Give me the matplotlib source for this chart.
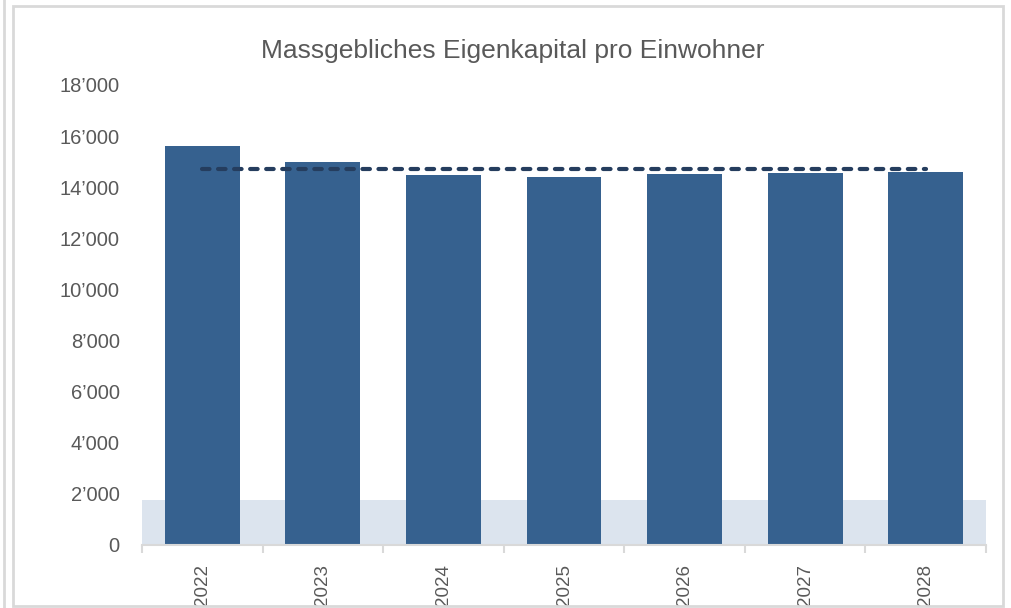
import matplotlib.pyplot as plt
from matplotlib.patches import Rectangle
from matplotlib.lines import Line2D
from matplotlib.ticker import FuncFormatter

years = ['2022', '2023', '2024', '2025', '2026', '2027', '2028']
eigenkapital = [15610, 14970, 14490, 14390, 14510, 14540, 14580]
mittelwert = [14710] * len(years)
zielband = 1780  # light blue band height

BAR_COLOR = '#36618f'
LINE_COLOR = '#253d5e'
TEXT_COLOR = '#595959'
FRAME_COLOR = '#d9d9d9'

plt.rcParams['font.family'] = ['Liberation Sans', 'DejaVu Sans']

fig = plt.figure(figsize=(10.11, 6.08), dpi=100)
ax = fig.add_axes([142 / 1011, 63 / 608, 844 / 1011, 460 / 608])

x = list(range(len(years)))
ax.axhspan(0, zielband, color='#dce4ee', lw=0, zorder=0)
ax.bar(x, eigenkapital, width=0.62, color=BAR_COLOR, zorder=2)
ax.plot(x, mittelwert, color=LINE_COLOR, lw=3, ls=(0, (1.8, 2.05)),
        dash_capstyle='round', zorder=3)

ax.set_xlim(-0.5, 6.5)
ax.set_ylim(0, 18000)
ax.set_yticks(range(0, 18001, 2000))
ax.yaxis.set_major_formatter(FuncFormatter(lambda v, p: f'{int(v):,}'.replace(',', '\u2019')))
ax.set_xticks(x)
ax.set_xticklabels(years, rotation=90)
ax.set_xticks([i - 0.5 for i in range(len(years) + 1)], minor=True)

for s in ['top', 'right', 'left']:
    ax.spines[s].set_visible(False)
ax.spines['bottom'].set_color(FRAME_COLOR)
ax.spines['bottom'].set_linewidth(1.5)
ax.tick_params(axis='y', length=0, labelsize=14.5, colors=TEXT_COLOR, pad=16)
ax.tick_params(axis='x', which='major', length=0, labelsize=13.5, colors=TEXT_COLOR, pad=14)
ax.tick_params(axis='x', which='minor', length=6, width=1.5, color=FRAME_COLOR)

fig.text(0.5074, 1 - 58 / 608, 'Massgebliches Eigenkapital pro Einwohner', ha='center', va='baseline',
         fontsize=19, color=TEXT_COLOR)

# outer frame
fig.patches.append(Rectangle((13 / 1011, 2 / 608), 990 / 1011, 600 / 608, transform=fig.transFigure,
                             fill=False, edgecolor=FRAME_COLOR, lw=2))
fig.lines.append(Line2D([4 / 1011, 4 / 1011], [0, 1], transform=fig.transFigure,
                        color=FRAME_COLOR, lw=2))

fig.savefig('out.png', dpi=100)
